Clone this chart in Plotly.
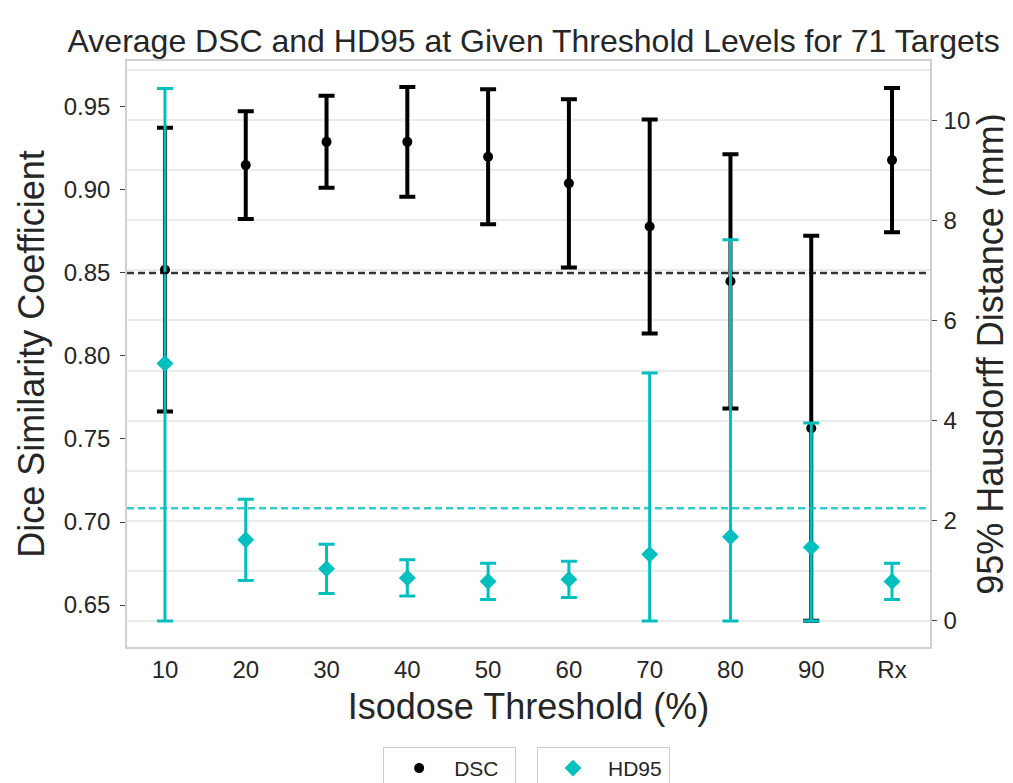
import plotly.graph_objects as go

categories = ["10", "20", "30", "40", "50", "60", "70", "80", "90", "Rx"]
dsc_mean = [0.852, 0.915, 0.929, 0.929, 0.920, 0.904, 0.878, 0.845, 0.7565, 0.918]
dsc_err = [0.0855, 0.0325, 0.0277, 0.033, 0.0407, 0.0507, 0.0645, 0.0766, 0.116, 0.0434]
hd_mean = [5.14, 1.62, 1.04, 0.86, 0.79, 0.83, 1.33, 1.68, 1.47, 0.79]
hd_err = [5.49, 0.81, 0.49, 0.36, 0.36, 0.36, 3.62, 5.93, 2.48, 0.36]
hd_err_minus = [min(e, m) for e, m in zip(hd_err, hd_mean)]
dsc_ref = 0.85
hd_ref = 2.25

BLACK = "#000000"
TEAL = "#00BFBF"
TXT = "#262626"
FONT = "Liberation Sans, Arial, sans-serif"

fig = go.Figure()

fig.add_trace(go.Scatter(
    x=categories, y=dsc_mean, mode="markers", name="DSC", showlegend=True,
    marker=dict(color=BLACK, size=10, symbol="circle"),
    error_y=dict(type="data", array=dsc_err, color=BLACK, thickness=4, width=8),
    legend="legend", yaxis="y",
))
fig.add_trace(go.Scatter(
    x=categories, y=hd_mean, mode="markers", name="HD95", showlegend=True,
    marker=dict(color=TEAL, size=13, symbol="diamond"),
    error_y=dict(type="data", array=hd_err, arrayminus=hd_err_minus,
                 symmetric=False, color=TEAL, thickness=3, width=8),
    legend="legend2", yaxis="y2",
))

fig.add_shape(type="line", xref="paper", x0=0, x1=1, yref="y", y0=dsc_ref, y1=dsc_ref,
              line=dict(color="rgba(0,0,0,0.8)", width=2.5, dash="7px,4px"), layer="above")
fig.add_shape(type="line", xref="paper", x0=0, x1=1, yref="y2", y0=hd_ref, y1=hd_ref,
              line=dict(color="rgba(0,191,191,0.8)", width=2.5, dash="7px,4px"), layer="above")

legend_common = dict(y=-0.1706, xanchor="left", yanchor="top", orientation="h",
                     bordercolor="#cccccc", borderwidth=1, bgcolor="white",
                     font=dict(size=21, color=TXT), itemwidth=60, entrywidth=56)

fig.update_layout(
    width=1005, height=775,
    margin=dict(l=119, r=83, t=53, b=136, autoexpand=False),
    showlegend=True,
    paper_bgcolor="white", plot_bgcolor="white",
    font=dict(family=FONT, color=TXT),
    title=dict(text="Average DSC and HD95 at Given Threshold Levels for 71 Targets",
               x=0.523, xanchor="center", y=0.9575, yanchor="middle",
               font=dict(size=32, color=TXT)),
    xaxis=dict(
        type="category", range=[-0.47, 9.47], automargin=False,
        title=dict(text="Isodose Threshold (%)", font=dict(size=36, color=TXT), standoff=12),
        tickfont=dict(size=24, color=TXT),
        showgrid=False, showline=True, linecolor="#d0d0d0", linewidth=1.5, mirror=True,
        ticks="", zeroline=False,
    ),
    yaxis=dict(
        range=[0.6247, 0.9777], dtick=0.05, tick0=0.65, tickformat=".2f", automargin=False,
        title=dict(text="Dice Similarity Coefficient", font=dict(size=36, color=TXT), standoff=8),
        tickfont=dict(size=24, color=TXT), ticklabelstandoff=5,
        showgrid=False, showline=True, linecolor="#d0d0d0", linewidth=1.5,
        ticks="outside", ticklen=5, tickcolor="#444", tickwidth=1, zeroline=False,
    ),
    yaxis2=dict(
        overlaying="y", side="right", range=[-0.52, 11.18], dtick=2, tick0=0, automargin=False,
        title=dict(text="95% Hausdorff Distance (mm)", font=dict(size=36, color=TXT), standoff=8),
        tickfont=dict(size=24, color=TXT), ticklabelstandoff=2,
        showgrid=True, gridcolor="#ebebeb", gridwidth=2,
        minor=dict(dtick=1, showgrid=True, gridcolor="#ebebeb", gridwidth=2),
        showline=True, linecolor="#d0d0d0", linewidth=1.5,
        ticks="outside", ticklen=5, tickcolor="#444", tickwidth=1, zeroline=False,
    ),
    legend=dict(x=0.319, **legend_common),
    legend2=dict(x=0.5106, **legend_common),
)

fig.write_html("out.html")
